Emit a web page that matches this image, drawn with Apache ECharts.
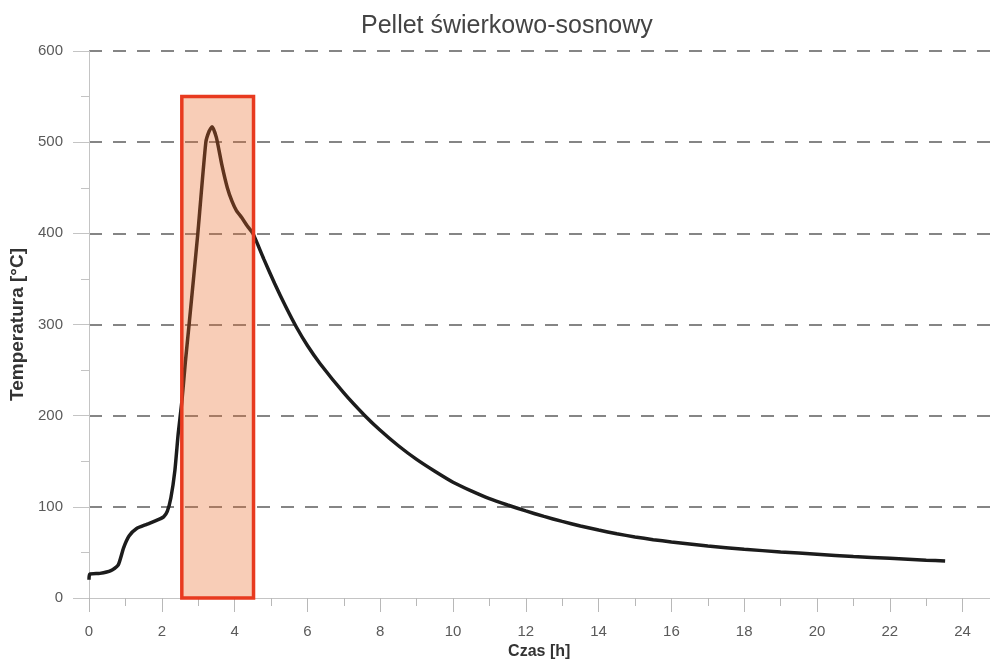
<!DOCTYPE html>
<html>
<head>
<meta charset="utf-8">
<script src="https://cdn.jsdelivr.net/npm/echarts@6/dist/echarts.min.js"></script>
<style>
html, body { margin: 0; padding: 0; overflow: hidden; background: #fff; }
#chart { width: 1040px; height: 661px; }
</style>
</head>
<body>
<div id="chart"></div>
<script>
// czas [h]
const czas = [0, 0.02, 0.3, 0.6, 0.8, 0.95, 1.1, 1.3, 1.6, 1.9, 2.05, 2.15, 2.25, 2.36, 2.45, 2.55, 2.65, 2.75, 2.99, 3.21, 3.3, 3.38,
  3.5, 3.65, 3.8, 3.93, 4.05, 4.2, 4.35, 4.5, 4.8, 5.1, 5.4, 5.7, 6.0, 6.35, 7.0, 7.58, 8.0, 8.5, 9.0, 9.5, 10.0, 10.5,
  11.0, 11.5, 12.0, 12.5, 13.0, 13.5, 14.0, 14.5, 15.0, 15.5, 16.0, 17.0, 18.0, 19.0, 20.0, 21.0, 22.0, 23.0, 23.52];
// temperatura [°C]
const temperatura = [20, 26, 27, 30, 36, 55, 68, 76, 81, 86, 89, 95, 110, 140, 180, 215, 260, 300, 400, 500, 512, 517,
  505, 475, 450, 435, 425, 417, 408, 400, 372, 345, 320, 297, 277, 257, 225, 200, 184, 167, 152, 139, 127, 117.5,
  109, 102, 95.5, 89.5, 84, 79, 74.5, 70.5, 67, 64, 61.5, 57, 53.5, 50.5, 48, 45.5, 43.5, 41.5, 40.5];
// zaznaczony obszar
const obszarCzas = [2.55, 4.52];
const obszarTemp = [0, 550];

const chart = echarts.init(document.getElementById('chart'));

const punkty = czas.map((t, i) => [t, temperatura[i]]);

const option = {
    animation: false,
    textStyle: { fontFamily: 'Liberation Sans, Arial, sans-serif' },
    title: {
        text: 'Pellet świerkowo-sosnowy',
        left: 356,
        top: 9,
        textStyle: { fontSize: 25, fontWeight: 'normal', color: '#444' }
    },
    grid: { left: 89, top: 51, bottom: 63, width: 946.4, outerBoundsMode: 'none' },
    xAxis: {
        type: 'value',
        min: 0,
        max: 26,
        interval: 2,
        name: 'Czas [h]',
        nameLocation: 'middle',
        nameGap: 45,
        nameTextStyle: { fontSize: 16, fontWeight: 'bold', color: '#333', padding: [0, 46, 0, 0] },
        axisLine: { lineStyle: { color: '#c4c4c4', width: 1 } },
        axisTick: { length: 14, lineStyle: { color: '#b8b8b8' } },
        minorTick: { show: true, splitNumber: 2, length: 8, lineStyle: { color: '#b8b8b8' } },
        axisLabel: { fontSize: 15, color: '#5a5a5a', margin: 26 },
        splitLine: { show: false }
    },
    yAxis: {
        type: 'value',
        min: 0,
        max: 600,
        interval: 100,
        name: 'Temperatura [°C]',
        nameLocation: 'middle',
        nameGap: 58,
        nameTextStyle: { fontSize: 19, fontWeight: 'bold', color: '#333' },
        axisLine: { show: true, lineStyle: { color: '#c4c4c4', width: 1 } },
        axisTick: { show: true, length: 16, lineStyle: { color: '#c4c4c4' } },
        minorTick: { show: true, splitNumber: 2, length: 8, lineStyle: { color: '#c4c4c4' } },
        axisLabel: { fontSize: 15, color: '#5a5a5a', margin: 26 },
        splitLine: {
            show: true,
            showMinLine: false,
            lineStyle: { type: [13, 11], color: '#858585', width: 2 }
        }
    },
    series: [
        {
            name: 'Temperatura',
            type: 'line',
            data: punkty,
            smooth: 0.2,
            symbol: 'none',
            z: 2,
            lineStyle: { color: '#1c1c1c', width: 3.5 }
        },
        {
            // prostokąt nad krzywą
            type: 'line',
            data: [],
            z: 5,
            markArea: {
                silent: true,
                z: 10,
                itemStyle: {
                    color: 'rgba(235,104,35,0.33)',
                    borderColor: '#e83a1f',
                    borderWidth: 3.5
                },
                data: [[
                    { coord: [obszarCzas[0], obszarTemp[0]] },
                    { coord: [obszarCzas[1], obszarTemp[1]] }
                ]]
            }
        }
    ]
};

chart.setOption(option);
</script>
</body>
</html>
